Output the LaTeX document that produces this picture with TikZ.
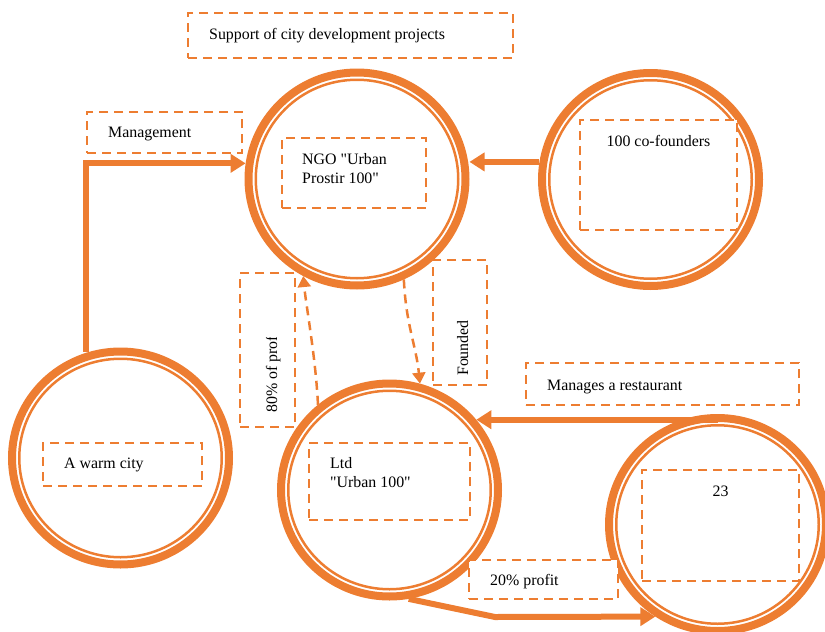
\documentclass[tikz,border=0pt]{standalone}
\usepackage{fontspec}
\setmainfont{Liberation Serif}
\usetikzlibrary{arrows.meta,shapes.geometric}
\definecolor{accent}{HTML}{ED7D31}
\newcommand{\dq}{\textquotedbl}

\begin{document}
\begin{tikzpicture}[x=1pt,y=-1pt,
  hub/.style={ellipse, draw=accent, line width=8pt, minimum width=217pt,
    minimum height=213pt, inner sep=0pt},
  innerring/.style={draw=accent, line width=2.5pt},
  dashbox/.style={rectangle, draw=accent, line width=2.5pt,
    dash pattern=on 9pt off 6pt, fill=white, inner sep=0pt},
  label/.style={inner sep=0pt, font=\fontsize{15.9}{18.4}\selectfont},
  flow/.style={draw=accent, line width=6pt,
    -{Triangle[length=15pt,width=18pt]}},
  link/.style={draw=accent, line width=2.5pt, dash pattern=on 9pt off 6pt,
    -{Triangle[length=11pt,width=13pt]}}]

\useasboundingbox (0,0) rectangle (825,632);
\clip (0,0) rectangle (825,632);

% double-ring circles
\node[hub] (ngo)  at (357,179)   {};
\node[hub] (cof)  at (650.5,179.5) {};
\node[hub] (warm) at (120.5,458) {};
\node[hub] (ltd)  at (389.5,490) {};
\node[hub] (b23)  at (717.5,524.5) {};
\foreach \n in {ngo,cof,warm,ltd,b23}
  \draw[innerring] (\n.center) ellipse [x radius=101.25, y radius=99.25];

% dashed text frames
\node[dashbox, minimum width=325pt, minimum height=45pt]  (supbox)   at (350.5,35.5) {};
\node[dashbox, minimum width=155pt, minimum height=41pt]  (mgmtbox)  at (164.5,132.5) {};
\node[dashbox, minimum width=144pt, minimum height=70pt]  (ngobox)   at (354,173) {};
\node[dashbox, minimum width=157pt, minimum height=110pt] (cofbox)   at (658.5,175) {};
\node[dashbox, minimum width=55pt,  minimum height=154pt] (pctbox)   at (267.5,350) {};
\node[dashbox, minimum width=54pt,  minimum height=125pt] (foundbox) at (460,322.5) {};
\node[dashbox, minimum width=273pt, minimum height=42pt]  (restbox)  at (662.5,384) {};
\node[dashbox, minimum width=159pt, minimum height=43pt]  (warmbox)  at (122.5,464.5) {};
\node[dashbox, minimum width=161pt, minimum height=77pt]  (ltdbox)   at (389.5,481.5) {};
\node[dashbox, minimum width=157pt, minimum height=111pt] (box23)    at (720.5,525.5) {};
\node[dashbox, minimum width=149pt, minimum height=39pt]  (smallbox) at (543.5,579.5) {};

% solid connectors
\draw[flow] ([yshift=-4pt]mgmtbox.west |- warm.north) |- (ngo.172);
\draw[flow] (cof.171) -- (cof.171 -| ngo.east);
\draw[flow] (ltd.39 -| b23.north) -- (ltd.39);
\coordinate (bend) at (495,617);
\draw[flow] (ltd.-80) -- (bend) -- (b23.236);

% dashed connectors
\draw[link] (ltd.130) .. controls (316,360) and (306,305) .. (ngo.241);
\draw[link] (ngo.-65) .. controls (406,325) and (416,345) .. (ltd.74);

% labels
\node[label, anchor=base west] (suptext)  at (209,39)  {Support of city development projects};
\node[label, anchor=base west] (mgmttext) at (108,137) {Management};
\node[label, anchor=base west, align=left] (ngotext) at (302,183) {NGO \dq Urban\\Prostir 100\dq};
\node[label, anchor=base] (coftext) at (658.5,146) {100 co-founders};
\begin{scope}
  \clip (240,337) rectangle (295,427);
  \node[label, anchor=base west, rotate=90] (pcttext) at (277,413) {80\% of profit};
\end{scope}
\node[label, anchor=base west, rotate=90] (foundtext) at (468,376) {Founded};
\node[label, anchor=base west] (resttext) at (547,390) {Manages a restaurant};
\node[label, anchor=base west] (warmtext) at (64,468) {A warm city};
\node[label, anchor=base west, align=left] (ltdtext) at (330,487) {Ltd\\\dq Urban 100\dq};
\node[label, anchor=base] (text23) at (720.5,496) {23};
\node[label, anchor=base west] (smalltext) at (490,585) {20\% profit};

\end{tikzpicture}
\end{document}
